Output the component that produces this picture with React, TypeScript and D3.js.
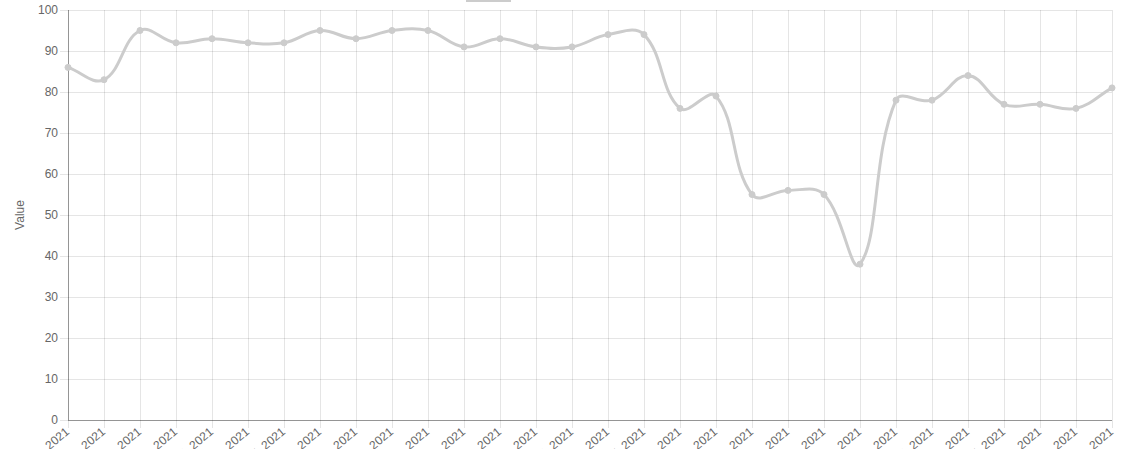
import React, { useEffect, useRef } from "react";
import * as d3 from "d3";

const W = 1131;
const H = 449;

const labels: string[] = Array.from({ length: 30 }, (_, i) => `Nov ${i + 1}, 2021`);
const values: number[] = [
  86, 83, 95, 92, 93, 92, 92, 95, 93, 95, 95, 91, 93, 91, 91, 94, 94, 76, 79, 55,
  56, 55, 38, 78, 78, 84, 77, 77, 76, 81,
];
const yTicks: number[] = [0, 10, 20, 30, 40, 50, 60, 70, 80, 90, 100];
const seriesName = "Daily value percentage";
const axisTitle = "Value";

const margin = { left: 68, right: 19, top: 10, bottom: 29 };

function splinePath(pts: [number, number][], t: number, area: { top: number; bottom: number; left: number; right: number }) {
  const n = pts.length;
  const cps: { prev: [number, number]; next: [number, number] }[] = [];
  for (let i = 0; i < n; i++) {
    const cur = pts[i];
    const prev = pts[Math.max(0, i - 1)];
    const next = pts[Math.min(n - 1, i + 1)];
    const d01 = Math.hypot(cur[0] - prev[0], cur[1] - prev[1]);
    const d12 = Math.hypot(next[0] - cur[0], next[1] - cur[1]);
    let s01 = d01 / (d01 + d12);
    let s12 = d12 / (d01 + d12);
    s01 = isNaN(s01) ? 0 : s01;
    s12 = isNaN(s12) ? 0 : s12;
    const fa = t * s01;
    const fb = t * s12;
    const clampX = (v: number) => Math.max(area.left, Math.min(area.right, v));
    const clampY = (v: number) => Math.max(area.top, Math.min(area.bottom, v));
    cps.push({
      prev: [clampX(cur[0] - fa * (next[0] - prev[0])), clampY(cur[1] - fa * (next[1] - prev[1]))],
      next: [clampX(cur[0] + fb * (next[0] - prev[0])), clampY(cur[1] + fb * (next[1] - prev[1]))],
    });
  }
  const p = d3.path();
  p.moveTo(pts[0][0], pts[0][1]);
  for (let i = 1; i < n; i++) {
    const a = cps[i - 1].next;
    const b = cps[i].prev;
    p.bezierCurveTo(a[0], a[1], b[0], b[1], pts[i][0], pts[i][1]);
  }
  return p.toString();
}

export default function App() {
  const ref = useRef<SVGSVGElement | null>(null);

  useEffect(() => {
    const svg = d3.select(ref.current);
    svg.selectAll("*").remove();
    const font = "'Liberation Sans', Arial, Helvetica, sans-serif";

    const x = d3
      .scalePoint<string>()
      .domain(labels)
      .range([margin.left, W - margin.right]);
    const y = d3
      .scaleLinear()
      .domain([0, 100])
      .range([H - margin.bottom, margin.top]);

    const top = margin.top;
    const bottom = H - margin.bottom;
    const left = margin.left;
    const right = W - margin.right;

    // legend (mostly cut off at top)
    svg
      .append("rect")
      .attr("x", 467)
      .attr("y", -12)
      .attr("width", 43)
      .attr("height", 13)
      .attr("fill", "rgba(204,204,204,0.6)")
      .attr("stroke", "#cccccc")
      .attr("stroke-width", 2);
    svg
      .append("text")
      .attr("x", 516)
      .attr("y", -3)
      .attr("font-family", font)
      .attr("font-size", 12)
      .attr("fill", "#666")
      .text(seriesName);

    // grid lines
    const g = svg.append("g");
    yTicks.forEach((v) => {
      g.append("line")
        .attr("x1", left - 8)
        .attr("x2", right)
        .attr("y1", y(v))
        .attr("y2", y(v))
        .attr("stroke", "rgba(0,0,0,0.1)")
        .attr("stroke-width", 1)
        .attr("shape-rendering", "crispEdges");
    });
    labels.forEach((l) => {
      g.append("line")
        .attr("x1", x(l)!)
        .attr("x2", x(l)!)
        .attr("y1", top)
        .attr("y2", bottom + 8)
        .attr("stroke", "rgba(0,0,0,0.1)")
        .attr("stroke-width", 1)
        .attr("shape-rendering", "crispEdges");
    });

    // axis lines
    g.append("line")
      .attr("x1", left)
      .attr("x2", left)
      .attr("y1", top)
      .attr("y2", bottom)
      .attr("stroke", "rgba(0,0,0,0.35)")
      .attr("shape-rendering", "crispEdges");
    g.append("line")
      .attr("x1", left)
      .attr("x2", right)
      .attr("y1", bottom)
      .attr("y2", bottom)
      .attr("stroke", "rgba(0,0,0,0.35)")
      .attr("shape-rendering", "crispEdges");

    // y tick labels
    yTicks.forEach((v) => {
      svg
        .append("text")
        .attr("x", left - 10)
        .attr("y", y(v))
        .attr("dy", "0.35em")
        .attr("text-anchor", "end")
        .attr("font-family", font)
        .attr("font-size", 12)
        .attr("fill", "#666")
        .text(String(v));
    });

    // y axis title
    svg
      .append("text")
      .attr("transform", `translate(24,${(top + bottom) / 2}) rotate(-90)`)
      .attr("text-anchor", "middle")
      .attr("font-family", font)
      .attr("font-size", 12)
      .attr("fill", "#666")
      .text(axisTitle);

    // x tick labels
    labels.forEach((l) => {
      svg
        .append("text")
        .attr("transform", `translate(${x(l)! + 2},${bottom + 13}) rotate(-40)`)
        .attr("text-anchor", "end")
        .attr("font-family", font)
        .attr("font-size", 12)
        .attr("fill", "#666")
        .text(l);
    });

    const pts: [number, number][] = labels.map((l, i) => [x(l)!, y(values[i])]);
    svg
      .append("path")
      .attr("d", splinePath(pts, 0.4, { top, bottom, left, right }))
      .attr("fill", "none")
      .attr("stroke", "#cccccc")
      .attr("stroke-width", 3);

    svg
      .selectAll("circle.pt")
      .data(pts)
      .enter()
      .append("circle")
      .attr("class", "pt")
      .attr("cx", (d) => d[0])
      .attr("cy", (d) => d[1])
      .attr("r", 3)
      .attr("fill", "#cccccc")
      .attr("stroke", "#cccccc")
      .attr("stroke-width", 1);
  }, []);

  return (
    <svg
      ref={ref}
      width={W}
      height={H}
      style={{ position: "absolute", left: 0, top: 0, background: "#fff" }}
    />
  );
}
